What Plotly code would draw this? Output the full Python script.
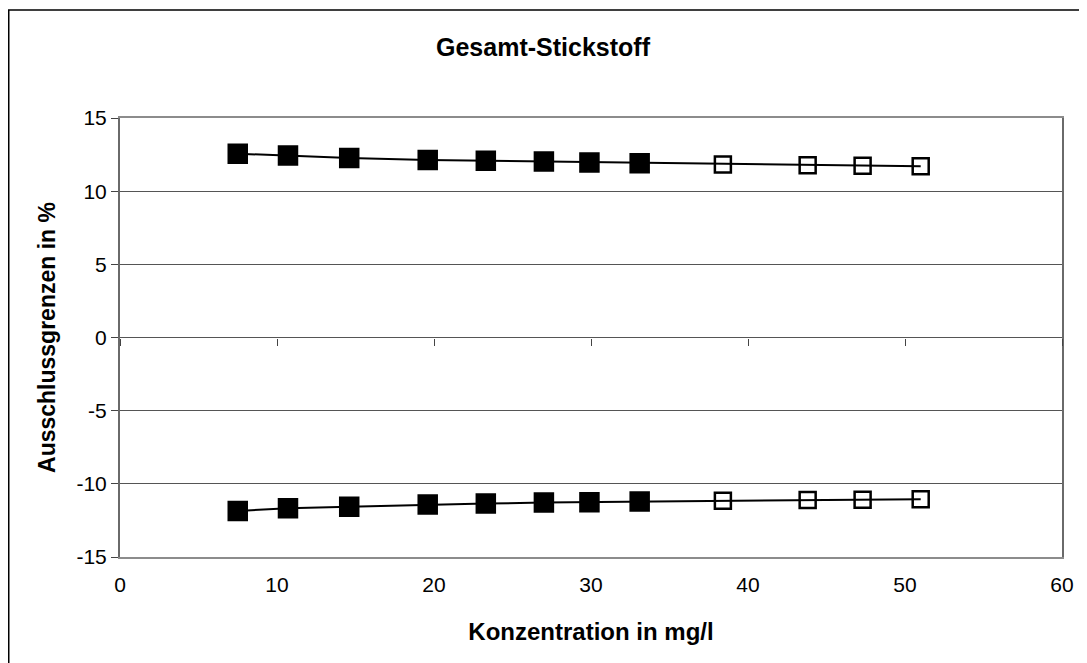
import plotly.graph_objects as go

konzentration = [7.5, 10.7, 14.6, 19.6, 23.3, 27.0, 29.9, 33.1, 38.4, 43.8, 47.3, 51.0]
obere_grenze = [12.56, 12.43, 12.27, 12.13, 12.08, 12.02, 11.96, 11.9, 11.83, 11.77, 11.74, 11.7]
untere_grenze = [-11.85, -11.67, -11.56, -11.42, -11.35, -11.28, -11.25, -11.21, -11.15, -11.1, -11.08, -11.05]
gemessen = [True] * 8 + [False] * 4

x_ticks = [0, 10, 20, 30, 40, 50, 60]
y_ticks = [-15, -10, -5, 0, 5, 10, 15]
y_ticktext = ["-15", "-10", "-5", "0", "5", "10", "15"]

symbols = ["square" if g else "square-open" for g in gemessen]
sizes = [18 if g else 16 for g in gemessen]

fig = go.Figure()
for ys in (obere_grenze, untere_grenze):
    fig.add_trace(go.Scatter(
        x=konzentration, y=ys, mode="lines+markers",
        line=dict(color="#000000", width=2),
        marker=dict(symbol=symbols, size=sizes, color="#000000", opacity=1,
                    line=dict(color="#000000", width=2.5)),
        showlegend=False, hoverinfo="skip",
    ))

# page body has an 8px margin; figure coordinates are screen - 8
W, H = 1079, 655
L, R, T, B = 112, 25, 110, 106
pw, ph = W - L - R, H - T - B

def px(xp):
    return (xp - L) / pw

def py(yp):
    return (H - B - yp) / ph

fig.update_layout(
    width=W, height=H,
    margin=dict(l=L, r=R, t=T, b=B),
    paper_bgcolor="white", plot_bgcolor="white",
    font=dict(family="Liberation Sans, Arial, sans-serif", size=21, color="black"),
    title=dict(text="<b>Gesamt-Stickstoff</b>", x=(543 - 8) / W, xref="container", xanchor="center",
               y=1 - (47 - 8) / H, yanchor="middle", font=dict(size=25)),
    xaxis=dict(range=[0, 60], tickvals=x_ticks, ticks="", showgrid=False, zeroline=False,
               showline=True, linecolor="#8c8c8c", linewidth=2, mirror=True,
               title=dict(text="<b>Konzentration in mg/l</b>", font=dict(size=24), standoff=28),
               ticklabelstandoff=8),
    xaxis2=dict(range=[0, 60], tickvals=x_ticks, overlaying="x", anchor="free", position=0.5,
                side="bottom", ticks="outside", ticklen=7, tickcolor="#444", tickwidth=1,
                showticklabels=False, showgrid=False, zeroline=False, showline=False),
    yaxis=dict(range=[-15, 15], tickvals=y_ticks, ticktext=y_ticktext, ticks="outside", ticklen=7,
               tickcolor="#444", showgrid=True, gridcolor="#555", gridwidth=1, zeroline=False,
               showline=True, linecolor="#6a6a6a", linewidth=2, mirror=True,
               title=dict(text="<b>Ausschlussgrenzen in %</b>", font=dict(size=23), standoff=14)),
    shapes=[dict(type="rect", xref="paper", yref="paper",
                 x0=px(0.75), x1=px(1100), y0=py(700), y1=py(2),
                 line=dict(color="black", width=1.5), fillcolor="rgba(0,0,0,0)", layer="below")],
)
fig.add_trace(go.Scatter(x=[None], y=[None], xaxis="x2", showlegend=False, hoverinfo="skip"))

fig.write_html("out.html")
